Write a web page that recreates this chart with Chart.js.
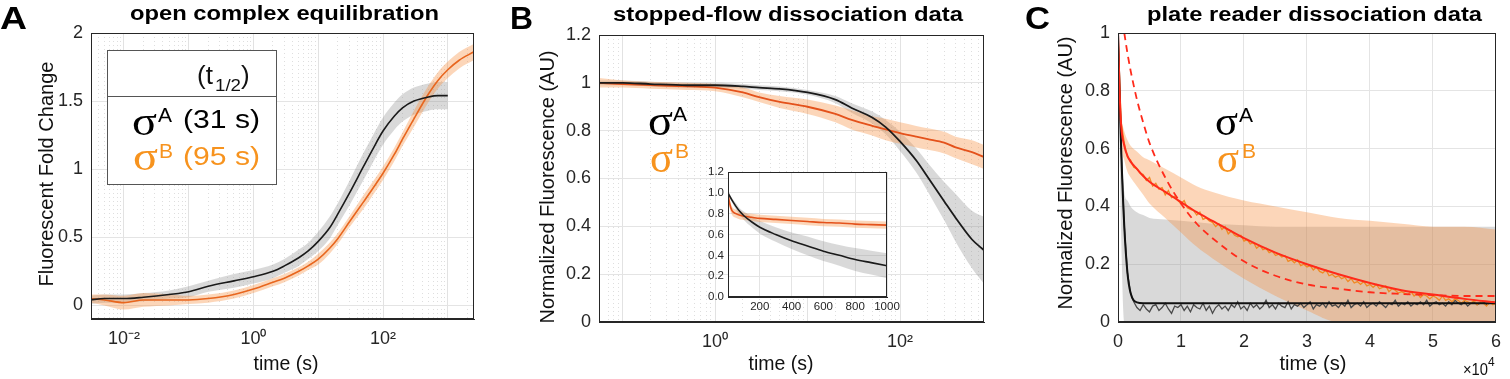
<!DOCTYPE html>
<html>
<head>
<meta charset="utf-8">
<script src="https://cdn.jsdelivr.net/npm/chart.js@4.4.1/dist/chart.umd.min.js"></script>
<style>
  html,body{margin:0;padding:0;background:#fff}
  #fig{position:relative;width:1510px;height:379px;overflow:hidden}
  canvas{position:absolute;top:0}
  svg{position:absolute;left:0;top:0;pointer-events:none}
</style>
</head>
<body>
<div id="fig">
  <canvas id="cA" width="490" height="379" style="left:0"></canvas>
  <canvas id="cB" width="500" height="379" style="left:500px"></canvas>
  <canvas id="cIn" width="220" height="160" style="left:690px;top:160px"></canvas>
  <canvas id="cC" width="500" height="379" style="left:1010px"></canvas>

  <svg width="1510" height="379" font-family="'Liberation Sans', Arial, sans-serif" fill="#111">
    <!-- panel letters + titles -->
    <g font-weight="bold" fill="#000">
      <text x="0" y="29" font-size="32" textLength="27" lengthAdjust="spacingAndGlyphs">A</text>
      <text x="510" y="29" font-size="32" textLength="23" lengthAdjust="spacingAndGlyphs">B</text>
      <text x="1025" y="29" font-size="32" textLength="25" lengthAdjust="spacingAndGlyphs">C</text>
      <text x="130" y="20" font-size="20" textLength="309" lengthAdjust="spacingAndGlyphs">open complex equilibration</text>
      <text x="613" y="21" font-size="20" textLength="350" lengthAdjust="spacingAndGlyphs">stopped-flow dissociation data</text>
      <text x="1147" y="21" font-size="20" textLength="335" lengthAdjust="spacingAndGlyphs">plate reader dissociation data</text>
    </g>
    <!-- axis titles -->
    <g font-size="20" text-anchor="middle">
      <text transform="translate(53,174) rotate(-90)" textLength="225" lengthAdjust="spacingAndGlyphs">Fluorescent Fold Change</text>
      <text transform="translate(554,187) rotate(-90)" textLength="273" lengthAdjust="spacingAndGlyphs">Normalized Fluorescence (AU)</text>
      <text transform="translate(1072,173) rotate(-90)" textLength="273" lengthAdjust="spacingAndGlyphs">Normalized Fluorescence (AU)</text>
      <text x="286" y="370" textLength="65" lengthAdjust="spacingAndGlyphs">time (s)</text>
      <text x="781" y="370" textLength="65" lengthAdjust="spacingAndGlyphs">time (s)</text>
      <text x="1313" y="370" textLength="67" lengthAdjust="spacingAndGlyphs">time (s)</text>
    </g>
    <text x="1463" y="375" font-size="17" textLength="25" lengthAdjust="spacingAndGlyphs">×10</text>
    <text x="1488" y="366" font-size="12">4</text>

    <!-- legend box, panel A -->
    <rect x="107.5" y="50.5" width="169" height="134" fill="#fff" stroke="#555"/>
    <line x1="107" y1="96.5" x2="276" y2="96.5" stroke="#555"/>
    <text x="197" y="84" font-size="26">(t</text>
    <text x="215" y="91" font-size="16" textLength="26" lengthAdjust="spacingAndGlyphs">1/2</text>
    <text x="241" y="84" font-size="26">)</text>
    <text x="132" y="135" font-family="'Liberation Serif', serif" font-size="40" textLength="25" lengthAdjust="spacingAndGlyphs" fill="#000">σ</text>
    <text x="158" y="122" font-size="21" fill="#000">A</text>
    <text x="183" y="128" font-size="25" textLength="77" lengthAdjust="spacingAndGlyphs" fill="#000">(31 s)</text>
    <g fill="#F7931E">
      <text x="133" y="170" font-family="'Liberation Serif', serif" font-size="40" textLength="25" lengthAdjust="spacingAndGlyphs">σ</text>
      <text x="159" y="158" font-size="21">B</text>
      <text x="183" y="165" font-size="25" textLength="77" lengthAdjust="spacingAndGlyphs">(95 s)</text>
    </g>

    <!-- sigma labels B -->
    <text x="648" y="135" font-family="'Liberation Serif', serif" font-size="44" textLength="25" lengthAdjust="spacingAndGlyphs" fill="#000">σ</text>
    <text x="673" y="121" font-size="21" fill="#000">A</text>
    <text x="650" y="172" font-family="'Liberation Serif', serif" font-size="44" textLength="23" lengthAdjust="spacingAndGlyphs" fill="#F7931E">σ</text>
    <text x="675" y="158" font-size="21" fill="#F7931E">B</text>
    <!-- sigma labels C -->
    <text x="1215" y="135" font-family="'Liberation Serif', serif" font-size="42" textLength="23" lengthAdjust="spacingAndGlyphs" fill="#000">σ</text>
    <text x="1239" y="122" font-size="21" fill="#000">A</text>
    <text x="1217" y="172" font-family="'Liberation Serif', serif" font-size="42" textLength="22" lengthAdjust="spacingAndGlyphs" fill="#F7931E">σ</text>
    <text x="1242" y="158" font-size="21" fill="#F7931E">B</text>
  </svg>
</div>

<script>
// ---------- data: panel A (open complex equilibration, log time) ----------
const tA       = [0.003,0.005,0.01,0.02,0.05,0.1,0.2,0.5,1,2,3,5,7,10,15,20,30,50,70,100,150,200,300,500,700,1000,1500,2500];
const aSigA    = [0.04,0.05,0.05,0.06,0.08,0.10,0.14,0.18,0.21,0.25,0.29,0.35,0.40,0.47,0.57,0.67,0.82,1.02,1.15,1.28,1.39,1.45,1.50,1.53,1.54,1.54,null,null];
const aSigAErr = [0.03,0.03,0.03,0.03,0.03,0.04,0.04,0.05,0.05,0.05,0.05,0.06,0.06,0.07,0.08,0.08,0.09,0.10,0.10,0.10,0.10,0.10,0.10,0.10,0.10,0.10,null,null];
const aSigB    = [0.05,0.04,0.02,0.04,0.04,0.04,0.05,0.08,0.12,0.17,0.20,0.25,0.29,0.34,0.42,0.49,0.61,0.76,0.86,0.97,1.11,1.22,1.37,1.55,1.65,1.73,1.80,1.86];
const aSigBErr = [0.03,0.04,0.05,0.05,0.04,0.03,0.03,0.03,0.03,0.03,0.03,0.03,0.03,0.04,0.04,0.04,0.04,0.05,0.05,0.05,0.05,0.05,0.06,0.06,0.06,0.06,0.06,0.06];

// ---------- data: panel B (stopped-flow, log time) ----------
const tB       = [0.056,0.1,0.2,0.5,1,2,3,5,10,20,30,50,70,100,150,200,300,400,600,809];
const bSigA    = [1.0,1.0,0.995,0.99,0.99,0.985,0.98,0.975,0.96,0.93,0.895,0.855,0.815,0.755,0.675,0.605,0.505,0.435,0.345,0.30];
const bSigAErr = [0.01,0.01,0.01,0.01,0.01,0.01,0.01,0.01,0.01,0.015,0.02,0.025,0.03,0.04,0.05,0.06,0.08,0.10,0.12,0.14];
const bSigB    = [1.0,0.995,0.99,0.985,0.98,0.96,0.94,0.92,0.9,0.87,0.845,0.82,0.805,0.79,0.775,0.765,0.75,0.73,0.71,0.69];
const bSigBErr = [0.02,0.015,0.015,0.015,0.015,0.02,0.02,0.025,0.03,0.035,0.04,0.04,0.045,0.045,0.045,0.045,0.045,0.045,0.05,0.05];

// inset (linear time)
const tIn        = [0,10,25,50,75,100,150,200,300,400,500,600,700,800,900,1000];
const inSigA     = [1.0,0.97,0.93,0.87,0.82,0.78,0.72,0.67,0.6,0.54,0.49,0.44,0.4,0.36,0.33,0.30];
const inSigAErr  = [0.01,0.02,0.02,0.03,0.03,0.04,0.05,0.06,0.07,0.08,0.09,0.095,0.1,0.11,0.115,0.12];
const inSigB     = [1.0,0.9,0.83,0.8,0.785,0.775,0.765,0.755,0.745,0.735,0.725,0.715,0.71,0.7,0.695,0.69];
const inSigBErr  = [0.02,0.04,0.04,0.04,0.04,0.035,0.035,0.035,0.035,0.035,0.035,0.035,0.035,0.035,0.035,0.035];

// ---------- data: panel C (plate reader, linear time) ----------
const tC       = [0,250,500,1000,1500,2000,3000,4000,5000,7500,10000,12500,15000,20000,25000,30000,35000,40000,45000,50000,55000,60000];
const cFitA    = [1.0,0.8,0.6,0.33,0.17,0.1,0.068,0.065,0.065,0.065,0.065,0.065,0.065,0.065,0.065,0.065,0.065,0.065,0.065,0.065,0.065,0.065];
const cFitB    = [1.0,0.8,0.68,0.61,0.575,0.555,0.53,0.505,0.485,0.45,0.415,0.38,0.35,0.29,0.24,0.2,0.165,0.135,0.11,0.095,0.08,0.068];
const cFitB1   = [null,null,null,1.0,0.93,0.87,0.77,0.69,0.62,0.5,0.41,0.34,0.29,0.21,0.16,0.13,0.115,0.103,0.097,0.093,0.09,0.09];
const cBandAHi = [1.0,0.85,0.7,0.45,0.42,0.4,0.38,0.37,0.36,0.355,0.35,0.345,0.34,0.335,0.33,0.33,0.33,0.33,0.33,0.33,0.33,0.33];
const cBandALo = [0.95,0.6,0.3,0,0,0,0,0,0,0,0,0,0,0,0,0,0,0,0,0,0,0];
const cBandBHi = [1.0,0.82,0.72,0.66,0.63,0.61,0.59,0.57,0.56,0.53,0.5,0.47,0.45,0.42,0.4,0.38,0.36,0.35,0.34,0.33,0.33,0.32];
const cBandBLo = [1.0,0.75,0.62,0.56,0.52,0.5,0.47,0.44,0.41,0.36,0.31,0.26,0.22,0.15,0.09,0.04,0,0,0,0,0,0];

const tNoise = [
  0,500,1000,1500,2000,2500,3000,3500,4000,4500,
  5000,5500,6000,6500,7000,7500,8000,8500,9000,9500,
  10000,10500,11000,11500,12000,12500,13000,13500,14000,14500,
  15000,15500,16000,16500,17000,17500,18000,18500,19000,19500,
  20000,20500,21000,21500,22000,22500,23000,23500,24000,24500,
  25000,25500,26000,26500,27000,27500,28000,28500,29000,29500,
  30000,30500,31000,31500,32000,32500,33000,33500,34000,34500,
  35000,35500,36000,36500,37000,37500,38000,38500,39000,39500,
  40000,40500,41000,41500,42000,42500,43000,43500,44000,44500,
  45000,45500,46000,46500,47000,47500,48000,48500,49000,49500,
  50000,50500,51000,51500,52000,52500,53000,53500,54000,54500,
  55000,55500,56000,56500,57000,57500,58000,58500,59000,59500,
  60000
];
const cDataA = [
  1.0,0.6,0.33,0.17,0.1,0.07,
  0.05,0.04,0.06,0.045,0.035,0.055,0.06,0.04,0.05,0.065,
  0.045,0.03,0.055,0.05,0.06,0.04,0.055,0.035,0.06,0.05,
  0.045,0.065,0.04,0.055,0.03,0.05,0.06,0.045,0.055,0.04,
  0.06,0.05,0.07,0.045,0.055,0.04,0.065,0.05,0.06,0.045,
  0.055,0.075,0.05,0.06,0.045,0.065,0.055,0.05,0.07,0.045,
  0.06,0.055,0.065,0.05,0.06,0.07,0.045,0.06,0.055,0.065,
  0.05,0.07,0.055,0.06,0.05,0.065,0.055,0.075,0.05,0.06,
  0.065,0.055,0.07,0.05,0.06,0.065,0.055,0.07,0.06,0.05,
  0.065,0.06,0.075,0.055,0.065,0.06,0.07,0.055,0.065,0.06,
  0.07,0.06,0.075,0.055,0.065,0.07,0.06,0.065,0.055,0.07,
  0.06,0.075,0.065,0.06,0.07,0.055,0.065,0.07,0.06,0.065,
  0.07,0.06,0.065,0.07,0.06
];
const cDataB = [
  1.0,
  0.69,0.62,0.57,0.56,0.535,0.53,0.515,0.51,0.49,0.5,
  0.47,0.48,0.46,0.465,0.44,0.455,0.43,0.435,0.42,0.41,
  0.42,0.395,0.39,0.385,0.37,0.38,0.355,0.36,0.35,0.345,
  0.33,0.34,0.32,0.33,0.305,0.315,0.3,0.295,0.3,0.28,
  0.285,0.27,0.275,0.255,0.265,0.25,0.255,0.24,0.245,0.23,
  0.235,0.225,0.23,0.21,0.215,0.205,0.215,0.195,0.2,0.19,
  0.195,0.18,0.19,0.175,0.17,0.18,0.16,0.165,0.155,0.16,
  0.15,0.155,0.14,0.15,0.135,0.14,0.13,0.14,0.125,0.13,
  0.12,0.13,0.115,0.12,0.125,0.105,0.115,0.11,0.1,0.105,
  0.1,0.095,0.105,0.09,0.1,0.085,0.095,0.09,0.08,0.09,
  0.085,0.075,0.09,0.075,0.08,0.07,0.08,0.075,0.065,0.075,
  0.07,0.065,0.075,0.06,0.07,0.065,0.055,0.07,0.06,0.065
];

// tick labels
const aDecadeLabels = [-2, 0, 2];
const bDecadeLabels = [0, 2];

// ---------- helpers ----------
const FONT = "'Liberation Sans', Arial, sans-serif";
const AXIS = '#262626';
const GREY_FILL = 'rgba(140,140,140,0.33)';
const ORANGE_FILL = 'rgba(246,140,60,0.36)';
const tickFont = {family: FONT, size: 18};

function xy(xs, ys){ return xs.map((x,i)=>({x, y: ys[i]})); }
function line(xs, ys, color, width, order, extra){
  return Object.assign({data: xy(xs,ys), borderColor: color, borderWidth: width, pointRadius: 0,
    fill: false, order, cubicInterpolationMode: 'monotone'}, extra || {});
}
function band2(xs, hi, lo, color, order){
  return [
    {data: xy(xs,hi), borderWidth:0, pointRadius:0, fill:'+1', backgroundColor: color, order, cubicInterpolationMode:'monotone'},
    {data: xy(xs,lo), borderWidth:0, pointRadius:0, fill:false, order, cubicInterpolationMode:'monotone'}
  ];
}
function band(xs, ys, err, color, order){
  return band2(xs, ys.map((v,i)=> v==null ? null : v+err[i]), ys.map((v,i)=> v==null ? null : v-err[i]), color, order);
}
function decade(v){ const l = Math.log10(v); return Math.abs(l - Math.round(l)) < 1e-6; }
function sup(n){
  const m = {'-':'⁻','0':'⁰','1':'¹','2':'²','3':'³','4':'⁴'};
  return String(n).split('').map(c => m[c]).join('');
}
function logX(min, max, labelled, height){
  return {
    type: 'logarithmic', min, max,
    afterFit: s => { s.height = height; },
    afterBuildTicks: s => {
      s.ticks = s.ticks.filter(t => {
        const m = t.value / Math.pow(10, Math.floor(Math.log10(t.value) + 1e-9));
        return Math.abs(m - Math.round(m)) < 1e-6;
      });
    },
    ticks: {autoSkip:false, maxRotation:0, padding:9, font: tickFont, color: AXIS,
      callback: v => {
        if (!decade(v)) return '';
        const e = Math.round(Math.log10(v));
        return labelled.includes(e) ? '10' + sup(e) : '';
      }},
    grid: {drawTicks:false, color: c => (c.tick && decade(c.tick.value)) ? '#e2e2e2' : '#dedede'},
    border: {color: AXIS, dash: c => (c.tick && !decade(c.tick.value)) ? [1,3] : []}
  };
}
function linAxis(min, max, step, fit, font, fmt, pad){
  return {
    type: 'linear', min, max,
    afterFit: fit,
    ticks: {stepSize: step, includeBounds:false, autoSkip:false, maxRotation:0, padding: pad, font, color: AXIS, callback: fmt},
    grid: {drawTicks:false, color:'#e4e4e4'},
    border: {color: AXIS}
  };
}
function opts(x, y, pad){
  return {
    responsive:false, animation:false, devicePixelRatio:1,
    layout:{padding: pad},
    plugins:{legend:{display:false}, tooltip:{enabled:false}},
    scales:{x, y}
  };
}
const boxPlugin = {
  id:'box',
  afterDatasetsDraw(chart){
    const {ctx, chartArea:a} = chart;
    const l = Math.round(a.left), t = Math.round(a.top), r = Math.round(a.right), b = Math.round(a.bottom);
    ctx.save(); ctx.strokeStyle = AXIS; ctx.lineWidth = 1;
    ctx.strokeRect(l + 0.5, t + 0.5, r - l - 1, b - t - 1);
    ctx.restore();
  }
};
const whitePlugin = {
  id:'white',
  beforeDraw(chart){
    const {ctx, chartArea:a} = chart;
    ctx.save(); ctx.fillStyle = '#fff';
    ctx.fillRect(a.left, a.top, a.right - a.left, a.bottom - a.top);
    ctx.restore();
  }
};
const numFmt = v => String(+(+v).toFixed(2));

// ---------- panel A ----------
new Chart(document.getElementById('cA'), {
  type:'line',
  data:{datasets:[
    line(tA, aSigA, '#1a1a1a', 1.6, 0),
    line(tA, aSigB, '#E8661E', 1.6, 1),
    ...band(tA, aSigA, aSigAErr, GREY_FILL, 10),
    ...band(tA, aSigB, aSigBErr, ORANGE_FILL, 9)
  ]},
  options: opts(
    logX(0.0031, 2540, aDecadeLabels, 40),
    linAxis(-0.1, 2, 0.5, s => { s.width = 91; }, tickFont, numFmt, 8),
    {left:0, right:16, top:33, bottom:20}
  ),
  plugins:[boxPlugin]
});

// ---------- panel B ----------
new Chart(document.getElementById('cB'), {
  type:'line',
  data:{datasets:[
    line(tB, bSigA, '#1a1a1a', 1.8, 0),
    line(tB, bSigB, '#E4521B', 1.8, 1),
    ...band(tB, bSigA, bSigAErr, GREY_FILL, 10),
    ...band(tB, bSigB, bSigBErr, ORANGE_FILL, 9)
  ]},
  options: opts(
    logX(0.0557, 809, bDecadeLabels, 40),
    linAxis(0, 1.2, 0.2, s => { s.width = 99; }, tickFont, numFmt, 8),
    {left:0, right:16, top:35, bottom:17}
  ),
  plugins:[boxPlugin]
});

// inset
const inFont = {family: FONT, size: 11.5};
new Chart(document.getElementById('cIn'), {
  type:'line',
  data:{datasets:[
    line(tIn, inSigA, '#1a1a1a', 1.6, 0),
    line(tIn, inSigB, '#E4521B', 1.6, 1),
    ...band(tIn, inSigA, inSigAErr, GREY_FILL, 10),
    ...band(tIn, inSigB, inSigBErr, ORANGE_FILL, 9)
  ]},
  options: opts(
    linAxis(0, 1000, 200, s => { s.height = 18; }, inFont, v => v === 0 ? '' : String(v), 3),
    linAxis(0, 1.2, 0.2, s => { s.width = 38; }, inFont, v => (+v).toFixed(1), 4),
    {left:0, right:23, top:12, bottom:5}
  ),
  plugins:[whitePlugin, boxPlugin]
});

// ---------- panel C ----------
new Chart(document.getElementById('cC'), {
  type:'line',
  data:{datasets:[
    line(tC, cFitA, '#111111', 2, 1),
    line(tC, cFitB, '#FF2A1A', 2, 0),
    line(tC, cFitB1, '#FF2A1A', 1.8, 0, {borderDash:[7,5]}),
    line(tNoise, cDataA, '#4a4a4a', 1.3, 3, {cubicInterpolationMode:'default', tension:0}),
    line(tNoise, cDataB, '#F08A24', 1.3, 2, {cubicInterpolationMode:'default', tension:0}),
    ...band2(tC, cBandAHi, cBandALo, GREY_FILL, 10),
    ...band2(tC, cBandBHi, cBandBLo, ORANGE_FILL, 9)
  ]},
  options: opts(
    linAxis(0, 60000, 10000, s => { s.height = 40; }, tickFont, v => String(v / 10000), 9),
    linAxis(0, 1, 0.2, s => { s.width = 108; }, tickFont, numFmt, 8),
    {left:0, right:7, top:33, bottom:17}
  ),
  plugins:[boxPlugin]
});
</script>
</body>
</html>
